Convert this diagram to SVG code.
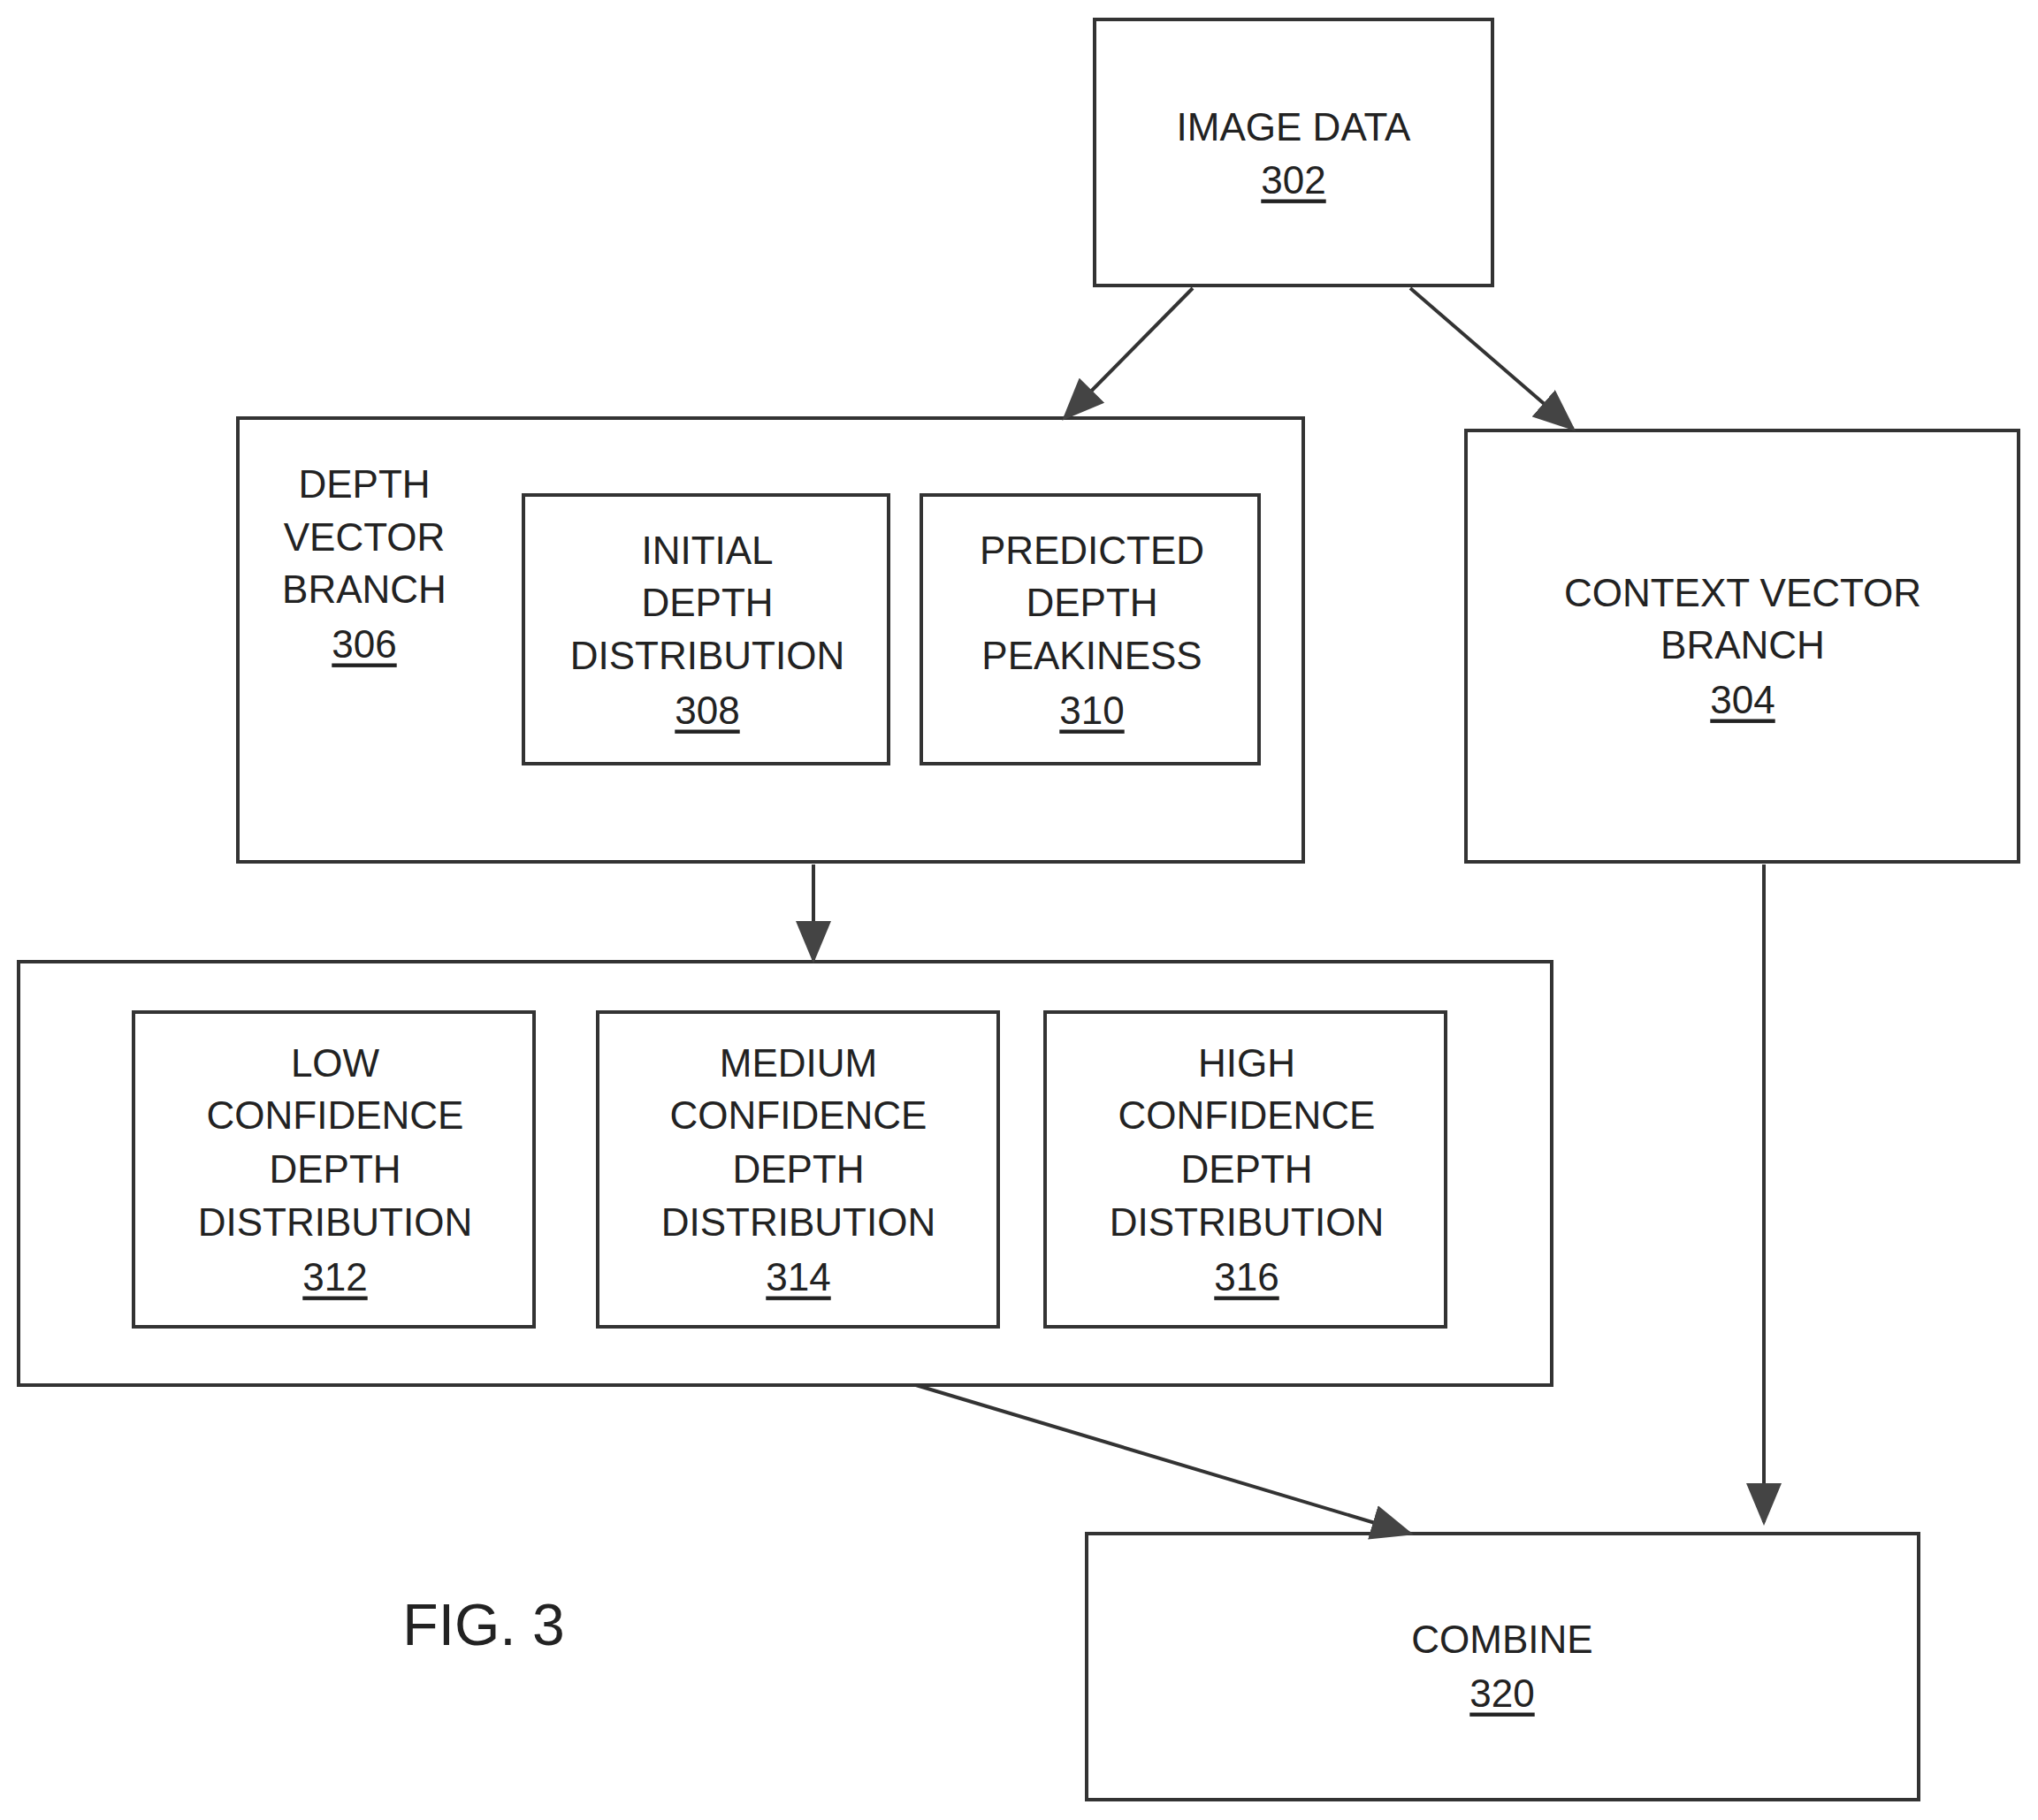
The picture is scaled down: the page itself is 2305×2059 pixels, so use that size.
<svg xmlns="http://www.w3.org/2000/svg" width="2305" height="2059" viewBox="0 0 2305 2059">
<style>
rect{fill:#fff;stroke:#333;stroke-width:4}
text{font-family:"Liberation Sans",Arial,sans-serif;font-size:44px;fill:#222;text-anchor:middle;dominant-baseline:central}
.n{text-decoration:underline}
.c line{stroke:#333;stroke-width:4;marker-end:url(#a)}
</style>
<defs><marker id="a" markerWidth="12" markerHeight="10" refX="11" refY="5" orient="auto" markerUnits="strokeWidth"><path d="M0,0L12,5L0,10Z" fill="#444"/></marker></defs>
<rect x="0" y="0" width="2305" height="2059" style="stroke:none"/>
<g id="n302"><rect x="1238" y="22" width="450" height="301"/><text x="1463" y="143">IMAGE DATA</text><text class="n" x="1463" y="203">302</text></g>
<g id="n306"><rect x="269" y="473" width="1205" height="502"/><text x="412" y="547">DEPTH</text><text x="412" y="607">VECTOR</text><text x="412" y="666">BRANCH</text><text class="n" x="412" y="728">306</text></g>
<g id="n308"><rect x="592" y="560" width="413" height="304"/><text x="800" y="622">INITIAL</text><text x="800" y="681">DEPTH</text><text x="800" y="741">DISTRIBUTION</text><text class="n" x="800" y="803">308</text></g>
<g id="n310"><rect x="1042" y="560" width="382" height="304"/><text x="1235" y="622">PREDICTED</text><text x="1235" y="681">DEPTH</text><text x="1235" y="741">PEAKINESS</text><text class="n" x="1235" y="803">310</text></g>
<g id="n304"><rect x="1658" y="487" width="625" height="488"/><text x="1971" y="670">CONTEXT VECTOR</text><text x="1971" y="729">BRANCH</text><text class="n" x="1971" y="791">304</text></g>
<g id="group"><rect x="21" y="1088" width="1734" height="479"/></g>
<g id="n312"><rect x="151" y="1145" width="453" height="356"/><text x="379" y="1202">LOW</text><text x="379" y="1261">CONFIDENCE</text><text x="379" y="1322">DEPTH</text><text x="379" y="1382">DISTRIBUTION</text><text class="n" x="379" y="1444">312</text></g>
<g id="n314"><rect x="676" y="1145" width="453" height="356"/><text x="903" y="1202">MEDIUM</text><text x="903" y="1261">CONFIDENCE</text><text x="903" y="1322">DEPTH</text><text x="903" y="1382">DISTRIBUTION</text><text class="n" x="903" y="1444">314</text></g>
<g id="n316"><rect x="1182" y="1145" width="453" height="356"/><text x="1410" y="1202">HIGH</text><text x="1410" y="1261">CONFIDENCE</text><text x="1410" y="1322">DEPTH</text><text x="1410" y="1382">DISTRIBUTION</text><text class="n" x="1410" y="1444">316</text></g>
<g id="n320"><rect x="1229" y="1735" width="941" height="301"/><text x="1699" y="1854">COMBINE</text><text class="n" x="1699" y="1915">320</text></g>
<g class="c" id="connectors">
<line x1="1349" y1="326" x2="1204" y2="473"/>
<line x1="1595" y1="326" x2="1779" y2="485"/>
<line x1="920" y1="978" x2="920" y2="1086"/>
<line x1="1995" y1="978" x2="1995" y2="1722"/>
<line x1="1036" y1="1567" x2="1595" y2="1735"/>
</g>
<text x="547" y="1838" style="font-size:66px">FIG. 3</text>
</svg>
